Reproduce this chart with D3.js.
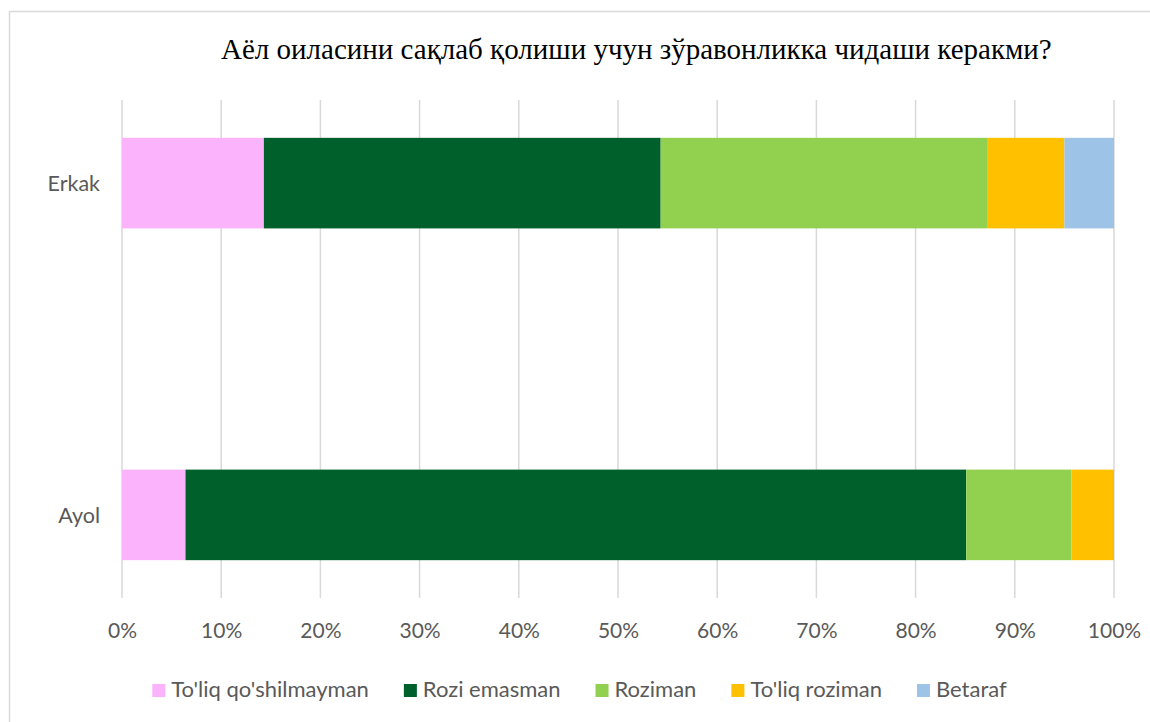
<!DOCTYPE html>
<html>
<head>
<meta charset="utf-8">
<script src="https://cdn.jsdelivr.net/npm/d3@7"></script>
<style>
  html, body { margin: 0; padding: 0; background: #fff; }
  svg { display: block; }
</style>
</head>
<body>
<svg id="chart" width="1150" height="722"></svg>
<script>
// ---- data ----
const categories = ["Erkak", "Ayol"];
const seriesNames = ["To'liq qo'shilmayman", "Rozi emasman", "Roziman", "To'liq roziman", "Betaraf"];
const seriesColors = ["#fbb3fb", "#00602b", "#92d050", "#ffc000", "#9dc3e6"];
// percent values per category, in series order
const erkakValues = [14.3, 40.0, 32.9, 7.8, 5.0];
const ayolValues = [6.4, 78.7, 10.6, 4.3, 0.0];
const tickValues = [0, 10, 20, 30, 40, 50, 60, 70, 80, 90, 100];
const titleText = "Аёл оиласини сақлаб қолиши учун зўравонликка чидаши керакми?";

const rows = [
  { cat: "Erkak", values: erkakValues },
  { cat: "Ayol", values: ayolValues }
].map(r => {
  const o = { cat: r.cat };
  seriesNames.forEach((s, i) => o[s] = r.values[i]);
  return o;
});

const svg = d3.select("#chart");
const plot = { left: 122, right: 1114, top: 100, bottom: 598 };
const fontSans = "Lato, 'Open Sans', sans-serif";
const textColor = "#595959";
const gridColor = "#d9d9d9";

// chart area border
svg.append("rect")
  .attr("x", 9.5).attr("y", 11.5)
  .attr("width", 1160).attr("height", 730)
  .attr("fill", "#fff")
  .attr("stroke", gridColor).attr("stroke-width", 1.5);

const x = d3.scaleLinear().domain([0, 100]).range([plot.left, plot.right]);
const y = d3.scaleBand().domain(categories).range([plot.top, plot.bottom])
  .paddingInner(0.727).paddingOuter(0.114);

// gridlines
svg.append("g").selectAll("line").data(tickValues).join("line")
  .attr("x1", d => x(d)).attr("x2", d => x(d))
  .attr("y1", plot.top).attr("y2", plot.bottom)
  .attr("stroke", gridColor).attr("stroke-width", 1.5);

// stacked bars
const stack = d3.stack().keys(seriesNames);
const stacked = stack(rows);
svg.append("g").selectAll("g").data(stacked).join("g")
  .attr("fill", (d, i) => seriesColors[i])
  .selectAll("rect").data(d => d).join("rect")
  .attr("x", d => x(d[0]))
  .attr("y", d => y(d.data.cat))
  .attr("width", d => Math.max(0, x(d[1]) - x(d[0])))
  .attr("height", y.bandwidth());

// x axis labels
const xAxis = d3.axisBottom(x).tickValues(tickValues).tickFormat(d => d + "%").tickSize(0).tickPadding(0);
const gx = svg.append("g").attr("transform", `translate(0,${plot.bottom})`).call(xAxis);
gx.select(".domain").remove();
gx.selectAll("text")
  .attr("y", 40).attr("dy", null)
  .attr("fill", textColor)
  .style("font-family", fontSans).style("font-size", "21px");

// y axis labels
const yAxis = d3.axisLeft(y).tickSize(0).tickPadding(0);
const gy = svg.append("g").attr("transform", `translate(${plot.left - 22},0)`).call(yAxis);
gy.select(".domain").remove();
gy.selectAll("text")
  .attr("dy", "0.36em")
  .attr("fill", textColor)
  .style("font-family", fontSans).style("font-size", "21.5px");

// title
svg.append("text")
  .attr("x", 221).attr("y", 59)
  .attr("fill", "#000")
  .style("font-family", "'Liberation Serif', 'Times New Roman', serif")
  .style("font-size", "29px")
  .text(titleText);

// legend
const legend = svg.append("g");
const items = legend.selectAll("g").data(seriesNames).join("g");
items.append("rect")
  .attr("width", 13).attr("height", 13)
  .attr("y", -13)
  .attr("fill", (d, i) => seriesColors[i]);
items.append("text")
  .attr("x", 19).attr("y", 0)
  .attr("fill", textColor)
  .style("font-family", fontSans).style("font-size", "22px")
  .text(d => d);
const widths = [];
items.each(function () {
  const w = 19 + d3.select(this).select("text").node().getComputedTextLength();
  widths.push(w);
});
const gap = 35;
const total = d3.sum(widths) + gap * (widths.length - 1);
let start = 579.5 - total / 2;
items.attr("transform", (d, i) => {
  const t = `translate(${start},697)`;
  start += widths[i] + gap;
  return t;
});
</script>
</body>
</html>
